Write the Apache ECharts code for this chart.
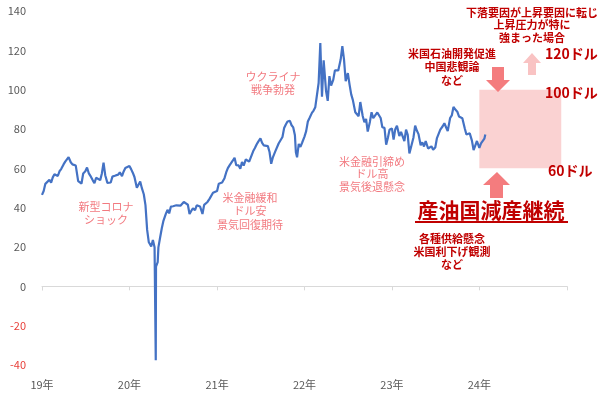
<!DOCTYPE html>
<html><head><meta charset="utf-8">
<script src="https://cdn.jsdelivr.net/npm/echarts@6/dist/echarts.min.js"></script>
<style>html,body{margin:0;padding:0;background:#fff}#c{width:600px;height:397px}</style>
</head><body><div id="c"></div>
<script>
const dates = [
'2019-01-01','2019-01-08','2019-01-15','2019-01-22','2019-02-01','2019-02-08','2019-02-15','2019-02-22',
'2019-03-01','2019-03-08','2019-03-15','2019-03-22','2019-04-01','2019-04-08','2019-04-15','2019-04-22',
'2019-05-01','2019-05-08','2019-05-15','2019-05-22','2019-06-01','2019-06-08','2019-06-15','2019-06-22',
'2019-07-01','2019-07-08','2019-07-15','2019-07-22','2019-08-01','2019-08-08','2019-08-15','2019-08-22',
'2019-09-01','2019-09-08','2019-09-15','2019-09-22','2019-10-01','2019-10-08','2019-10-15','2019-10-22',
'2019-11-01','2019-11-08','2019-11-15','2019-11-22','2019-12-01','2019-12-08','2019-12-15','2019-12-22',
'2020-01-01','2020-01-08','2020-01-15','2020-01-22','2020-02-01','2020-02-08','2020-02-15','2020-02-22',
'2020-03-01','2020-03-08','2020-03-15','2020-03-22','2020-04-01','2020-04-08','2020-04-15','2020-04-20','2020-04-21','2020-04-28',
'2020-05-01','2020-05-08','2020-05-15','2020-05-22','2020-06-01','2020-06-08','2020-06-15','2020-06-22',
'2020-07-01','2020-07-08','2020-07-15','2020-07-22','2020-08-01','2020-08-08','2020-08-15','2020-08-22',
'2020-09-01','2020-09-08','2020-09-15','2020-09-22','2020-10-01','2020-10-08','2020-10-15','2020-10-22',
'2020-11-01','2020-11-08','2020-11-15','2020-11-22','2020-12-01','2020-12-08','2020-12-15','2020-12-22',
'2021-01-01','2021-01-08','2021-01-15','2021-01-22','2021-02-01','2021-02-08','2021-02-15','2021-02-22',
'2021-03-01','2021-03-08','2021-03-15','2021-03-22','2021-04-01','2021-04-08','2021-04-15','2021-04-22',
'2021-05-01','2021-05-08','2021-05-15','2021-05-22','2021-06-01','2021-06-08','2021-06-15','2021-06-22',
'2021-07-01','2021-07-08','2021-07-15','2021-07-22','2021-08-01','2021-08-08','2021-08-15','2021-08-22',
'2021-09-01','2021-09-08','2021-09-15','2021-09-22','2021-10-01','2021-10-08','2021-10-15','2021-10-22',
'2021-11-01','2021-11-08','2021-11-15','2021-11-22','2021-11-26','2021-12-01','2021-12-08','2021-12-15','2021-12-22',
'2022-01-01','2022-01-08','2022-01-15','2022-01-22','2022-02-01','2022-02-08','2022-02-15','2022-02-22',
'2022-03-01','2022-03-08','2022-03-15','2022-03-22','2022-04-01','2022-04-08','2022-04-15','2022-04-22',
'2022-05-01','2022-05-08','2022-05-15','2022-05-22','2022-06-01','2022-06-08','2022-06-15','2022-06-22',
'2022-07-01','2022-07-08','2022-07-15','2022-07-22','2022-08-01','2022-08-08','2022-08-15','2022-08-22',
'2022-09-01','2022-09-08','2022-09-15','2022-09-22','2022-10-01','2022-10-08','2022-10-15','2022-10-22',
'2022-11-01','2022-11-08','2022-11-15','2022-11-22','2022-12-01','2022-12-08','2022-12-15','2022-12-22',
'2023-01-01','2023-01-08','2023-01-15','2023-01-22','2023-02-01','2023-02-08','2023-02-15','2023-02-22',
'2023-03-01','2023-03-08','2023-03-15','2023-03-22','2023-04-01','2023-04-08','2023-04-15','2023-04-22',
'2023-05-01','2023-05-08','2023-05-15','2023-05-22','2023-06-01','2023-06-08','2023-06-15','2023-06-22',
'2023-07-01','2023-07-08','2023-07-15','2023-07-22','2023-08-01','2023-08-08','2023-08-15','2023-08-22',
'2023-09-01','2023-09-08','2023-09-15','2023-09-22','2023-10-01','2023-10-08','2023-10-15','2023-10-22',
'2023-11-01','2023-11-08','2023-11-15','2023-11-22','2023-12-01','2023-12-08','2023-12-15','2023-12-22',
'2024-01-01','2024-01-08','2024-01-15','2024-01-22','2024-01-26'
];
const wti = [
46.5,48.5,52.1,53.0, 54.2,52.7,55.4,57.0,
56.6,56.1,58.5,59.6, 62.0,63.4,63.8,65.7,
63.1,62.0,62.0,61.4, 53.5,52.6,52.3,57.4,
58.5,60.4,57.6,56.2, 53.9,52.5,55.2,55.4,
54.0,57.4,62.9,56.5, 52.6,52.6,52.8,55.8,
56.2,57.2,56.8,58.0, 56.0,58.4,60.2,60.5,
61.2,59.6,57.8,55.6, 50.1,50.3,53.3,49.9,
46.8,41.3,28.7,22.4, 20.3,23.6,19.9,-37.6,10.0,12.3,
19.8,24.7,29.4,33.3, 36.8,38.9,37.1,40.5,
40.7,40.9,41.2,41.3, 41.0,41.9,42.9,42.4,
41.5,36.8,38.3,39.6, 38.7,41.2,41.0,40.6,
36.8,41.4,41.4,42.9, 44.6,45.5,47.6,47.0,
48.5,52.2,52.4,52.8, 55.0,57.9,60.1,61.5,
61.5,64.0,65.4,61.6, 61.5,59.8,63.2,61.4,
64.5,64.9,63.4,63.6, 68.8,70.3,72.1,73.6,
75.2,72.9,71.7,71.9, 71.3,68.3,62.3,65.6,
68.6,69.3,72.6,72.2, 75.9,80.5,82.3,83.8,
84.1,81.9,80.8,76.8,68.2, 65.6,72.4,70.9,73.0,
76.1,78.9,83.8,85.6, 88.2,89.4,91.1,92.1,
103.4,123.7,96.4,114.9, 99.3,94.3,106.9,102.1,
105.0,109.8,110.5,109.8, 115.3,122.1,115.3,104.3,
108.4,102.7,97.6,94.7, 88.5,89.0,86.5,93.7,
86.6,83.5,85.1,78.7, 83.6,88.5,85.5,85.0,
88.4,88.9,85.6,80.9, 80.6,72.0,75.4,79.6,
80.3,74.6,79.9,81.6, 76.4,78.5,78.5,73.9,
79.7,77.0,67.6,70.9, 75.7,81.7,79.2,77.4,
71.7,73.2,71.1,73.9, 70.1,70.3,71.2,69.5,
70.6,75.4,75.8,79.7, 81.4,82.9,80.9,78.9,
85.6,86.9,91.2,90.0, 88.8,86.4,87.3,85.5,
80.4,77.2,76.7,77.8, 74.1,69.3,71.6,73.9,
70.4,72.7,72.7,75.1,77.2
];
const yTicks = {min: -40, max: 140, step: 20};
const xRange = ['2019-01-01', '2025-01-01'];
const forecastBox = [['2024-01-01', 100], ['2024-12-08', 60]];

const DARK = '#c00000', SALMON = '#f27a80', ARROW = '#f47c7e', LIGHTARROW = '#f9c3c3';
const FONT = '"Noto Sans CJK JP", "Noto Sans", sans-serif';
const chart = echarts.init(document.getElementById('c'), null, {renderer: 'canvas'});
const YEAR = 365 * 24 * 3600 * 1000;
const yearFmt = function (v) {
  const y = new Date(v).getFullYear();
  if (y >= 2025) return '';
  return String(y).slice(2) + '年';
};

function txt(x, y, text, color, size, bold, lh, align) {
  return {type: 'text', x: x, y: y, z: 100, style: {
    text: text, fill: color, font: (bold ? 'bold ' : '') + size + 'px ' + FONT,
    align: align || 'center', verticalAlign: 'middle', lineHeight: lh || Math.round(size * 1.2)
  }};
}
function poly(points, color) {
  return {type: 'polygon', z: 90, shape: {points: points}, style: {fill: color}};
}

chart.setOption({
  animation: false,
  textStyle: {fontFamily: FONT},
  grid: {left: 42, right: 33, top: 11, bottom: 32, containLabel: false, outerBoundsMode: 'none'},
  xAxis: [{
    type: 'time', min: xRange[0], max: xRange[1], position: 'bottom',
    minInterval: YEAR, maxInterval: YEAR + 2 * 24 * 3600 * 1000,
    axisLine: {show: false, onZero: false},
    axisTick: {show: false},
    splitLine: {show: false},
    axisLabel: {margin: 14, color: '#595959', fontSize: 11, fontFamily: FONT, formatter: yearFmt}
  }, {
    type: 'time', min: xRange[0], max: xRange[1], position: 'bottom',
    minInterval: YEAR, maxInterval: YEAR + 2 * 24 * 3600 * 1000,
    axisLine: {show: true, onZero: true, lineStyle: {color: '#d9d9d9', width: 1}},
    axisTick: {show: true, length: 4, lineStyle: {color: '#d9d9d9'}},
    splitLine: {show: false},
    axisLabel: {show: false}
  }],
  yAxis: {
    type: 'value', min: yTicks.min, max: yTicks.max, interval: yTicks.step,
    axisLine: {show: false}, axisTick: {show: false}, splitLine: {show: false},
    axisLabel: {
      margin: 16, fontSize: 11, fontFamily: FONT,
      color: function (v) { return Number(v) < 0 ? '#e8403a' : '#595959'; }
    }
  },
  series: [{
    type: 'line', showSymbol: false, symbol: 'none', xAxisIndex: 0,
    data: dates.map(function (d, i) { return [d, wti[i]]; }),
    lineStyle: {color: '#4472c4', width: 2.2}, z: 10,
    markArea: {silent: true, itemStyle: {color: '#fad2d2'}, z: 1,
      data: [[{coord: forecastBox[0]}, {coord: forecastBox[1]}]]}
  }],
  graphic: [
    txt(106, 213, '新型コロナ\nショック', SALMON, 11, false, 13),
    txt(250, 211, '米金融緩和\nドル安\n景気回復期待', SALMON, 11, false, 13.5),
    txt(273, 83, 'ウクライナ\n戦争勃発', SALMON, 11, false, 13),
    txt(372, 174, '米金融引締め\nドル高\n景気後退懸念', SALMON, 11, false, 12.5),
    txt(452, 67, '米国石油開発促進\n中国悲観論\nなど', DARK, 11, true, 13.5),
    txt(532, 25, '下落要因が上昇要因に転じ\n上昇圧力が特に\n強まった場合', DARK, 11, true, 12.5),
    txt(545, 54, '120ドル', DARK, 14, true, 16, 'left'),
    txt(545, 93, '100ドル', DARK, 14, true, 16, 'left'),
    txt(548, 171, '60ドル', DARK, 14, true, 16, 'left'),
    txt(491, 210, '産油国減産継続', DARK, 21, true, 24),
    {type: 'line', z: 100, shape: {x1: 415, y1: 222, x2: 568, y2: 222}, style: {stroke: DARK, lineWidth: 2}},
    txt(452, 252, '各種供給懸念\n米国利下げ観測\nなど', DARK, 11, true, 13),
    poly([[492, 67], [504, 67], [504, 80], [510, 80], [498, 92], [486, 80], [492, 80]], ARROW),
    poly([[497, 172], [510, 185], [503, 185], [503, 198], [490, 198], [490, 185], [483, 185]], ARROW),
    poly([[532, 53], [541, 63], [536, 63], [536, 75], [528, 75], [528, 63], [523, 63]], LIGHTARROW)
  ]
});
</script></body></html>
